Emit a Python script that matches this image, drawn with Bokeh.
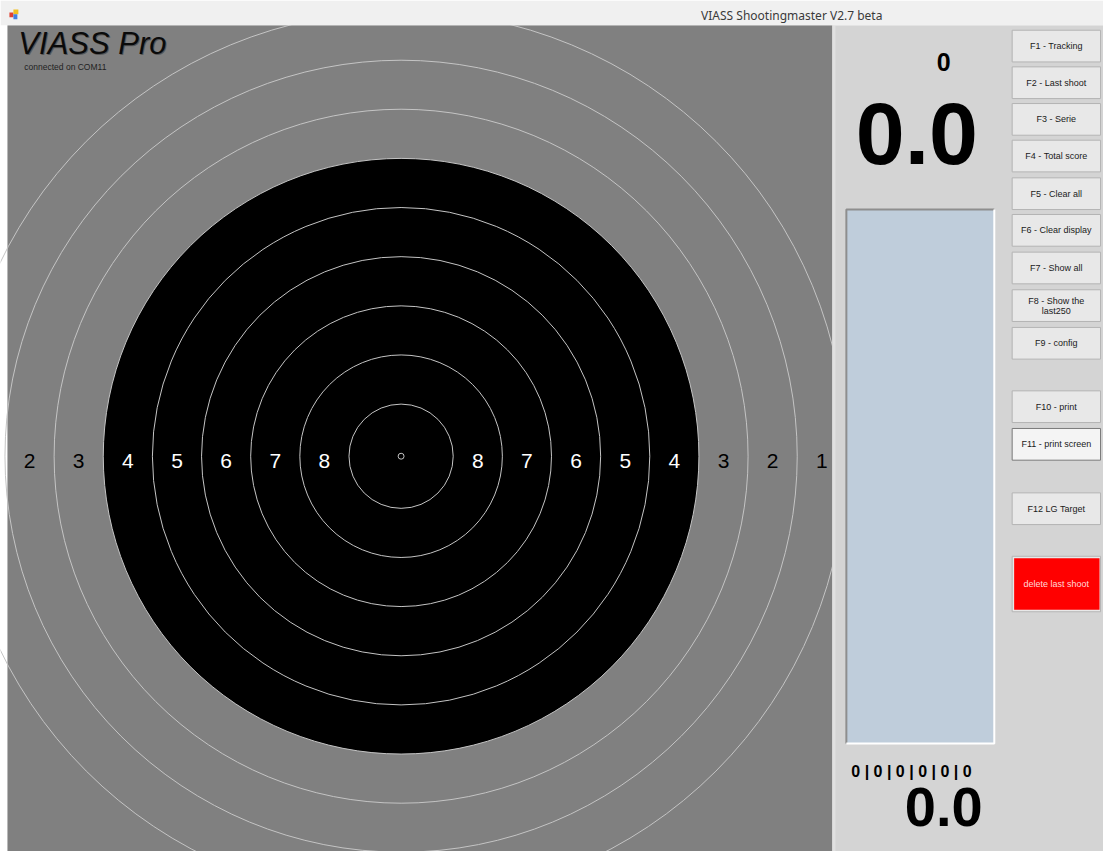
from bokeh.plotting import figure
from bokeh.models import Range1d, ColumnDataSource
from bokeh.core.properties import value
from bokeh.embed import file_html
from bokeh.resources import INLINE

# ---------------- data ----------------
window_title = "VIASS Shootingmaster V2.7 beta"
app_title = "VIASS Pro"
status_text = "connected on COM11"
ring_scores = [1, 2, 3, 4, 5, 6, 7, 8, 9, 10]
black_from_score = 4
left_label_scores = [2, 3, 4, 5, 6, 7, 8]
right_label_scores = [8, 7, 6, 5, 4, 3, 2, 1]
shot_number = "0"
last_shot_value = "0.0"
series_scores = [0, 0, 0, 0, 0, 0]
total_value = "0.0"
button_labels = ["F1 - Tracking", "F2 - Last shoot", "F3 - Serie", "F4 - Total score",
                 "F5 - Clear all", "F6 - Clear display", "F7 - Show all",
                 "F8 - Show the\nlast250", "F9 - config", "F10 - print",
                 "F11 - print screen", "F12 LG Target"]
delete_label = "delete last shoot"

# ---------------- layout ----------------
W, H, M = 1111, 859, 8
TITLE_H = 25
PANEL_X = 838
CX, CY = 403.5, 460
R_BLACK = 300.0
STEP = 49.5
BTN_X0, BTN_X1 = 1019, 1108
BTN_TOPS = [30, 67, 104, 141, 179, 216, 254, 292, 330, 394, 432, 497]
BTN_H = 32
DEL_Y0, DEL_Y1 = 561, 617
LIST_X0, LIST_X1, LIST_Y0, LIST_Y1 = 852, 1001, 211, 750

SANS = value("Liberation Sans")


def ring_radius(s):
    return R_BLACK + (black_from_score - s) * STEP


p = figure(width=W - M, height=H - M, x_range=Range1d(0, W), y_range=Range1d(H, 0),
           x_axis_location=None, y_axis_location=None, toolbar_location=None,
           output_backend="svg", min_border=0)
p.xgrid.visible = False
p.ygrid.visible = False
p.outline_line_color = None
p.background_fill_color = "white"
p.border_fill_color = "white"

# target background
p.quad(left=[7], right=[PANEL_X], bottom=[H], top=[TITLE_H], fill_color="#808080", line_color=None)

# black aiming disc
p.circle(x=[CX], y=[CY], radius=[ring_radius(black_from_score)], fill_color="black", line_color=None)

# ring lines
radii = [ring_radius(s) for s in ring_scores]
p.circle(x=[CX] * len(radii), y=[CY] * len(radii), radius=radii,
         fill_color=None, line_color="#c4c4c4", line_width=1)

# ring labels
lx, ly, lt, lc = [], [], [], []
for s in left_label_scores:
    lx.append(CX - (ring_radius(s) - STEP / 2)); ly.append(CY + 5); lt.append(str(s))
    lc.append("white" if s >= black_from_score else "black")
for s in right_label_scores:
    lx.append(CX + (ring_radius(s) - STEP / 2)); ly.append(CY + 5); lt.append(str(s))
    lc.append("white" if s >= black_from_score else "black")
p.text(x="x", y="y", text="t", text_color="c",
       source=ColumnDataSource(dict(x=lx, y=ly, t=lt, c=lc)),
       text_font=SANS, text_font_size="21px", text_align="center", text_baseline="middle")

# app title (with a soft shadow)
p.text(x=[19], y=[44], text=[app_title], text_font=SANS, text_font_size="31px",
       text_font_style="italic", text_color="#3a3a3a", text_alpha=0.6,
       text_align="left", text_baseline="middle")
p.text(x=[18], y=[43], text=[app_title], text_font=SANS, text_font_size="31px",
       text_font_style="italic", text_color="#0a0a0a", text_align="left", text_baseline="middle")
p.text(x=[24], y=[67], text=[status_text], text_font=SANS, text_font_size="8.5px",
       text_color="#222222", text_align="left", text_baseline="middle")

# right panel
p.quad(left=[PANEL_X], right=[W], bottom=[H], top=[TITLE_H], fill_color="#d4d4d4", line_color=None)
p.quad(left=[PANEL_X], right=[PANEL_X + 3], bottom=[H], top=[TITLE_H], fill_color="#e0e0e0", line_color=None)

# title bar
p.quad(left=[0], right=[W], bottom=[TITLE_H], top=[0], fill_color="#f0f0f0", line_color=None)
p.quad(left=[9, 13, 13], right=[13, 18, 17], top=[12, 9, 14], bottom=[17, 14, 19],
       fill_color=["#e04030", "#f0c020", "#4080e0"], line_color=None)
p.text(x=[797], y=[15], text=[window_title], text_font=value("Noto Sans"), text_font_size="12px",
       text_color="#3a3a3a", text_align="center", text_baseline="middle")

# shot counter and last shot value
p.text(x=[950], y=[62], text=[shot_number], text_font=SANS, text_font_size="25px",
       text_font_style="bold", text_color="black", text_align="center", text_baseline="middle")
p.text(x=[923], y=[134], text=[last_shot_value], text_font=SANS, text_font_size="88px",
       text_font_style="bold", text_color="black", text_align="center", text_baseline="middle")

# shot list box
p.quad(left=[LIST_X0], right=[LIST_X1], bottom=[LIST_Y1], top=[LIST_Y0],
       fill_color="#bfcddb", line_color=None)
p.multi_line(xs=[[LIST_X0, LIST_X0, LIST_X1], [LIST_X0, LIST_X1, LIST_X1]],
             ys=[[LIST_Y1, LIST_Y0, LIST_Y0], [LIST_Y1, LIST_Y1, LIST_Y0]],
             line_color=["#8e8e8e", "white"], line_width=2)

# series and total
p.text(x=[857], y=[778], text=[" | ".join(str(v) for v in series_scores)], text_font=SANS,
       text_font_size="16px", text_font_style="bold", text_color="black",
       text_align="left", text_baseline="middle")
p.text(x=[950], y=[814], text=[total_value], text_font=SANS, text_font_size="56px",
       text_font_style="bold", text_color="black", text_align="center", text_baseline="middle")

# buttons
n_b = len(button_labels)
focus = [lab.startswith("F11") for lab in button_labels]
p.quad(left=[BTN_X0] * n_b, right=[BTN_X1] * n_b, top=BTN_TOPS, bottom=[t + BTN_H for t in BTN_TOPS],
       fill_color=["#f4f4f4" if f else "#e8e8e8" for f in focus],
       line_color=["#7a7a7a" if f else "#b4b4b4" for f in focus], line_width=1)
p.text(x=[(BTN_X0 + BTN_X1) / 2] * n_b, y=[t + BTN_H / 2 for t in BTN_TOPS], text=button_labels,
       text_font=SANS, text_font_size="9px",
       text_color="#1a1a1a", text_align="center", text_baseline="middle", text_line_height=1.0)

# delete button
p.quad(left=[BTN_X0], right=[BTN_X1], top=[DEL_Y0], bottom=[DEL_Y1],
       fill_color="#e8e8e8", line_color="#b4b4b4")
p.quad(left=[BTN_X0 + 2], right=[BTN_X1 - 1], top=[DEL_Y0 + 2], bottom=[DEL_Y1 - 2],
       fill_color="#ff0000", line_color=None)
p.text(x=[(BTN_X0 + BTN_X1) / 2], y=[(DEL_Y0 + DEL_Y1) / 2], text=[delete_label],
       text_font=SANS, text_font_size="9px", text_color="#ffd8d8",
       text_align="center", text_baseline="middle")

open("out.html", "w").write(file_html(p, INLINE))
